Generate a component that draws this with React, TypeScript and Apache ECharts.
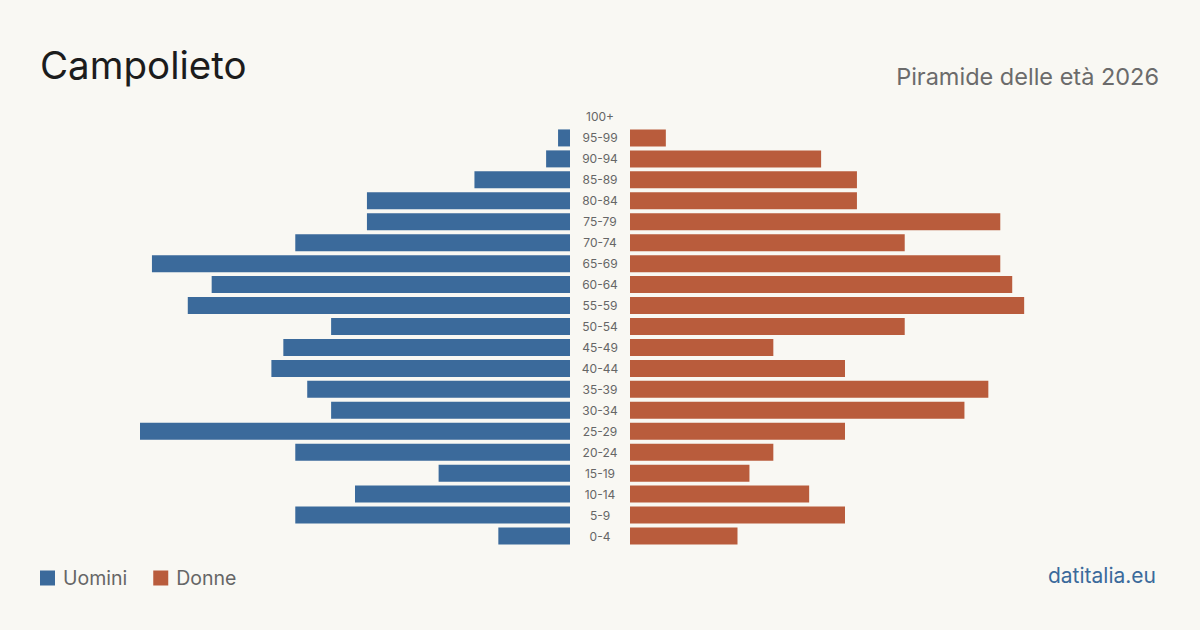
import React, { useEffect, useRef } from "react";
import * as echarts from "echarts";

// Age classes from youngest to oldest (bottom to top)
const ageClasses = [
  "0-4", "5-9", "10-14", "15-19", "20-24", "25-29", "30-34", "35-39", "40-44", "45-49",
  "50-54", "55-59", "60-64", "65-69", "70-74", "75-79", "80-84", "85-89", "90-94", "95-99", "100+",
];
const men = [6, 23, 18, 11, 23, 36, 20, 22, 25, 24, 20, 32, 30, 35, 23, 17, 17, 8, 2, 1, 0];
const women = [9, 18, 15, 10, 12, 18, 28, 30, 18, 12, 23, 33, 32, 31, 23, 31, 19, 19, 16, 3, 0];

const axisMax = Math.max(...men, ...women);

const BLUE = "#3b6a9b";
const RUST = "#b95c3c";
const FONT = "Inter, 'Noto Sans', sans-serif";

export default function App() {
  const ref = useRef<HTMLDivElement>(null);

  useEffect(() => {
    if (!ref.current) return;
    const chart = echarts.init(ref.current, undefined, { renderer: "svg" });
    chart.setOption({
      animation: false,
      backgroundColor: "#f9f8f3",
      textStyle: { fontFamily: FONT },
      legend: {
        left: 40,
        top: 568,
        padding: 0,
        icon: "rect",
        itemWidth: 15,
        itemHeight: 15,
        itemGap: 26,
        textStyle: { fontSize: 19.5, color: "#666", fontFamily: FONT, padding: [0, 0, 0, 3] },
        data: ["Uomini", "Donne"],
      },
      graphic: [
        {
          type: "text",
          left: 40,
          top: 45,
          style: { text: "Campolieto", fontSize: 38.5, fill: "#1c1c1c", fontFamily: FONT },
        },
        {
          type: "text",
          right: 41,
          top: 64,
          style: { text: "Piramide delle età 2026", fontSize: 23.5, fill: "#6b6b6b", fontFamily: FONT },
        },
        {
          type: "text",
          right: 44,
          top: 565,
          style: { text: "datitalia.eu", fontSize: 21, fill: BLUE, fontFamily: FONT },
        },
      ],
      grid: [
        { left: 140, width: 430, top: 106.5, height: 440 },
        { left: 630, width: 430, top: 106.5, height: 440 },
      ],
      xAxis: [
        { gridIndex: 0, type: "value", min: 0, max: axisMax, inverse: true, show: false },
        { gridIndex: 1, type: "value", min: 0, max: axisMax, show: false },
      ],
      yAxis: [
        {
          gridIndex: 0,
          type: "category",
          data: ageClasses,
          position: "right",
          axisLine: { show: false },
          axisTick: { show: false },
          axisLabel: { margin: 30, align: "center", fontSize: 12, color: "#666", fontFamily: FONT },
        },
        {
          gridIndex: 1,
          type: "category",
          data: ageClasses,
          axisLine: { show: false },
          axisTick: { show: false },
          axisLabel: { show: false },
        },
      ],
      series: [
        {
          name: "Uomini",
          type: "bar",
          xAxisIndex: 0,
          yAxisIndex: 0,
          data: men,
          barWidth: 17,
          itemStyle: { color: BLUE },
        },
        {
          name: "Donne",
          type: "bar",
          xAxisIndex: 1,
          yAxisIndex: 1,
          data: women,
          barWidth: 17,
          itemStyle: { color: RUST },
        },
      ],
    });
    return () => chart.dispose();
  }, []);

  return <div ref={ref} style={{ width: 1200, height: 630, position: "fixed", left: 0, top: 0 }} />;
}
